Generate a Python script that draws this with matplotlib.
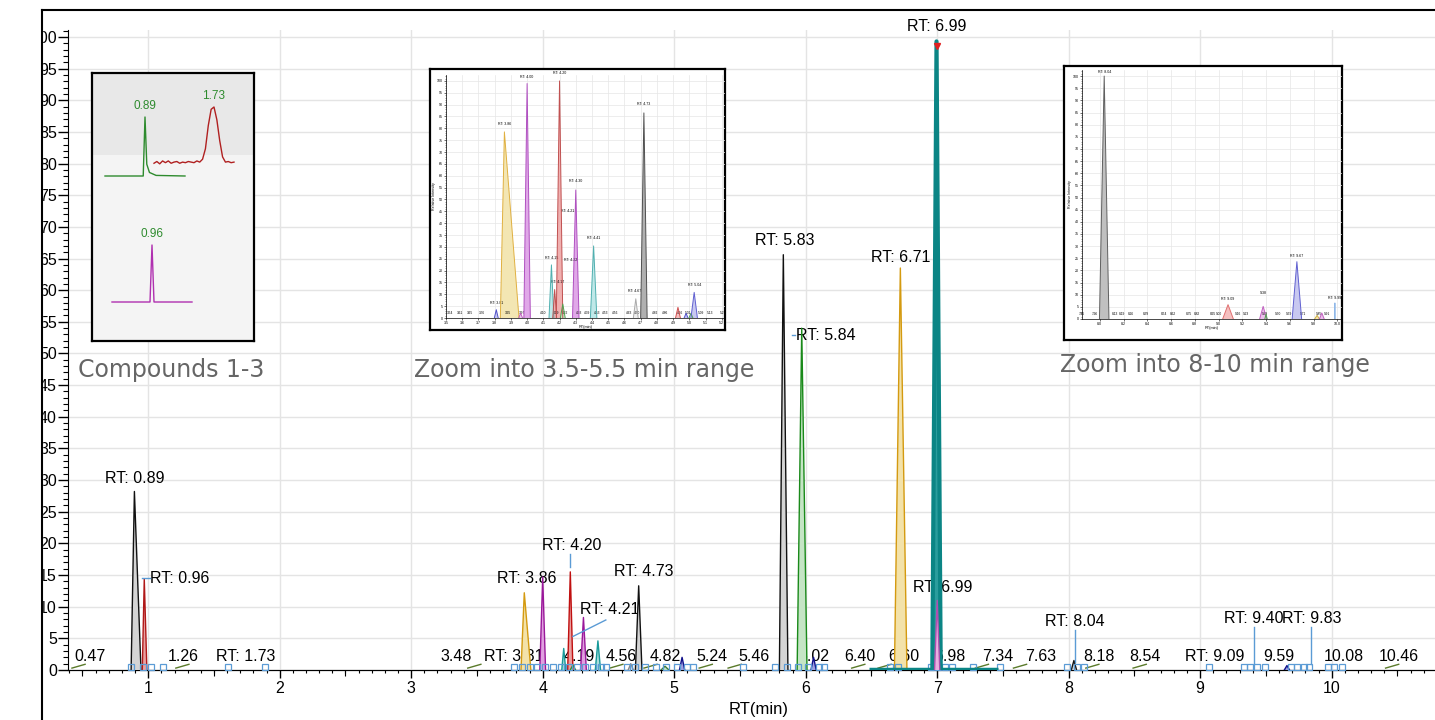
import numpy as np
import matplotlib.pyplot as plt
from matplotlib.patches import Rectangle
from matplotlib.lines import Line2D
from matplotlib.ticker import MultipleLocator, NullFormatter

plt.rcParams['font.family'] = ['Liberation Sans', 'DejaVu Sans']

# ---- main chromatogram: apex RT, relative intensity, left / right base width
peak_rt = [0.895, 0.97, 3.86, 4.0, 4.16, 4.21, 4.23, 4.31, 4.42, 4.67, 4.73, 4.93,
           5.06, 5.83, 5.97, 6.06, 6.72, 6.995, 7.0, 8.04, 9.66]
peak_h = [28.2, 14.4, 12.2, 14.7, 3.4, 15.5, 0.8, 8.3, 4.6, 1.0, 13.3, 0.6,
          2.0, 65.6, 54.0, 2.0, 63.5, 99.3, 11.0, 1.5, 0.7]
peak_wl = [0.025, 0.015, 0.025, 0.022, 0.015, 0.02, 0.02, 0.022, 0.02, 0.02, 0.025, 0.03,
           0.02, 0.03, 0.035, 0.02, 0.045, 0.032, 0.02, 0.02, 0.02]
peak_wr = [0.05, 0.02, 0.05, 0.022, 0.015, 0.02, 0.02, 0.022, 0.02, 0.02, 0.025, 0.03,
           0.02, 0.035, 0.04, 0.02, 0.05, 0.032, 0.02, 0.02, 0.02]
peak_line = ['#111111', '#b01818', '#d49a10', '#9a189a', '#189a9a', '#c01010', '#2a8a2a',
             '#9a189a', '#189a9a', '#888888', '#111111', '#3a7a3a', '#10108a', '#111111',
             '#1a8a1a', '#10108a', '#d49a10', '#0b8585', '#b050b0', '#111111', '#10108a']
peak_fill = ['#d4d4d4', '#e8a0a0', '#f3e2a9', '#e0a0e0', '#a8dcdc', '#e8a0a0', '#c5e5c5',
             '#e0a0e0', '#a8dcdc', '#e4e4e4', '#d4d4d4', '#c5e5c5', '#a0a0e0', '#d4d4d4',
             '#c5e5c5', '#a0a0e0', '#f3e2a9', '#2a9d9d', '#e8b0e0', '#d4d4d4', '#a0a0e0']

# small labelled peaks along the baseline (label text, where the label sits)
base_labels = ['0.47', '1.26', 'RT: 1.73', '3.48', 'RT: 3.81', '4.19', '4.56', '4.82', '5.24',
               '5.46', '6.02', '6.40', '6.60', '6.98', '7.34', '7.63', '8.18', '8.54',
               'RT: 9.09', '9.59', '10.08', '10.46']
base_label_x = [0.555, 1.27, 1.74, 3.34, 3.78, 4.28, 4.60, 4.93, 5.29, 5.61, 6.06, 6.41,
                6.75, 7.10, 7.46, 7.79, 8.23, 8.58, 9.11, 9.60, 10.09, 10.51]
minor_rt = [0.47, 1.26, 3.48, 4.56, 4.82, 5.24, 5.46, 6.40, 6.60, 7.34, 7.63, 8.18, 8.54, 10.46]

# peak boundary markers
bound_x = [0.87, 0.96, 1.02, 1.11, 1.61, 1.89, 3.78, 3.84, 3.90, 3.96, 4.02, 4.08, 4.14,
           4.20, 4.26, 4.32, 4.38, 4.44, 4.48, 4.64, 4.70, 4.78, 4.86, 4.94, 5.02, 5.10,
           5.14, 5.52, 5.77, 5.86, 5.94, 6.02, 6.10, 6.14, 6.64, 6.70, 6.95, 7.01, 7.06,
           7.11, 7.27, 7.48, 7.99, 8.06, 8.12, 9.07, 9.33, 9.38, 9.43, 9.49, 9.69, 9.74,
           9.79, 9.83, 9.97, 10.02, 10.08]

# ---- inset 1: compounds 1-3 (time, normalised intensity)
c1_t = [0.80, 0.886, 0.89, 0.894, 0.90, 0.915, 0.98]
c1_i = [0.0, 0.0, 1.0, 0.2, 0.06, 0.01, 0.0]
c2_t = [1.475, 1.4875, 1.50, 1.5125, 1.525, 1.5375, 1.55, 1.5625, 1.575, 1.5875, 1.60,
        1.6125, 1.625, 1.6375, 1.65, 1.6625, 1.675, 1.6875, 1.70, 1.7125, 1.725, 1.7375,
        1.75, 1.7625, 1.775, 1.7875, 1.80, 1.8125, 1.825]
c2_i = [0.03, 0.06, 0.02, 0.07, 0.04, 0.07, 0.03, 0.05, 0.06, 0.03, 0.05, 0.04, 0.06, 0.05,
        0.04, 0.07, 0.05, 0.10, 0.28, 0.68, 0.96, 1.0, 0.78, 0.42, 0.14, 0.05, 0.06, 0.04, 0.05]
c3_t = [0.90, 0.957, 0.96, 0.963, 1.02]
c3_i = [0.0, 0.0, 1.0, 0.0, 0.0]

# ---- inset 2: 3.5-5.5 min
z1_rt = [3.81, 3.86, 3.96, 4.00, 4.15, 4.17, 4.20, 4.22, 4.30, 4.41, 4.67, 4.72, 4.93, 4.98, 5.01, 5.03]
z1_h = [3.5, 78.5, 2, 98.9, 22.4, 12, 100, 5.9, 54, 30.4, 8.1, 86.5, 4.5, 2, 2, 10.8]
z1_wl = [0.012, 0.025, 0.012, 0.02, 0.015, 0.012, 0.02, 0.015, 0.02, 0.02, 0.015, 0.02, 0.015, 0.012, 0.012, 0.02]
z1_wr = [0.012, 0.09, 0.012, 0.02, 0.015, 0.012, 0.02, 0.015, 0.02, 0.02, 0.015, 0.02, 0.015, 0.012, 0.012, 0.02]
z1_line = ['#5050c8', '#e0b040', '#c060c0', '#b050c0', '#50b0b0', '#c05050', '#c05050', '#50a050',
           '#b050c0', '#50b0b0', '#aaaaaa', '#505050', '#d05050', '#5050c8', '#50a050', '#6060d0']
z1_fill = ['#c8c8f0', '#f3e6b3', '#ecc8ec', '#e0a8e8', '#c0e8e8', '#f0b0b0', '#f0b0b0', '#c8e8c8',
           '#e0a8e8', '#c0e8e8', '#eeeeee', '#b0b0b0', '#f5c0c0', '#c8c8f0', '#c8e8c8', '#c8c8f0']
z1_tags = ['RT: 3.81', 'RT: 3.86', 'RT: 4.00', 'RT: 4.15', 'RT: 4.17', 'RT: 4.20', 'RT: 4.21',
           'RT: 4.22', 'RT: 4.30', 'RT: 4.41', 'RT: 4.67', 'RT: 4.73', 'RT: 5.04']
z1_base = ['3.54', '3.61', '3.65', '3.76', '3.95', '3.97', '4.10', '4.19', '4.22', '4.33', '4.39',
           '4.43', '4.53', '4.56', '4.63', '4.70', '4.82', '4.86', '4.96', '5.01', '5.09', '5.13', '5.2']
z1_base_x = [3.528, 3.586, 3.648, 3.72, 3.88, 3.97, 4.10, 4.18, 4.235, 4.32, 4.37, 4.43, 4.48,
             4.54, 4.63, 4.68, 4.79, 4.85, 4.94, 4.99, 5.07, 5.13, 5.2]

# ---- inset 3: 8-10 min
z2_rt = [8.037, 9.08, 9.376, 9.40, 9.66, 9.83, 9.87, 9.98]
z2_h = [100, 5.9, 5.2, 2, 23.6, 1.5, 2.5, 6.6]
z2_w = [0.04, 0.045, 0.03, 0.01, 0.04, 0.02, 0.02, 0.003]
z2_line = ['#606060', '#e07070', '#c060c0', '#50a050', '#6060d0', '#d0b040', '#c060c0', '#90b8e8']
z2_fill = ['#c0c0c0', '#f5c0c0', '#ecc0ec', '#c8e8c8', '#c8c8f0', '#f3e6b3', '#ecc0ec', '#d8e8f8']
z2_tags = ['RT: 8.04', 'RT: 9.09', '9.38', 'RT: 9.67', 'RT: 9.99']
z2_base = ['7.85', '7.96', '8.13', '8.19', '8.26', '8.39', '8.54', '8.62', '8.75', '8.82', '8.95',
           '9.00', '9.16', '9.23', '9.39', '9.50', '9.59', '9.71', '9.85', '9.91']

W, H = 1435, 720


def fig_rect(x0, y0, x1, y1):
    # pixel box (top-left origin) -> figure fraction rect
    return [x0 / W, 1 - y1 / H, (x1 - x0) / W, (y1 - y0) / H]


def draw_peaks(ax, rts, hs, wls, wrs, lines, fills, lw=1.0, z=3):
    for rt, h, wl, wr, lc, fc in zip(rts, hs, wls, wrs, lines, fills):
        xs = [rt - wl, rt, rt + wr]
        ys = [0, h, 0]
        ax.fill(xs, ys, color=fc, lw=0, zorder=z)
        ax.plot(xs, ys, color=lc, lw=lw, zorder=z + 0.5)


def box_axes(fig, rect, face='white'):
    bx = fig.add_axes(rect, zorder=5)
    bx.set_facecolor(face)
    bx.set_xticks([])
    bx.set_yticks([])
    for s in bx.spines.values():
        s.set_linewidth(1.6)
        s.set_color('black')
    return bx


def mini_axes(fig, rect, xlim, xstep):
    mx = fig.add_axes(rect, zorder=6)
    mx.set_facecolor('none')
    mx.set_xlim(*xlim)
    mx.set_ylim(0, 102.5)
    mx.xaxis.set_major_locator(MultipleLocator(xstep))
    mx.yaxis.set_major_locator(MultipleLocator(5))
    mx.yaxis.set_minor_locator(MultipleLocator(1))
    mx.tick_params(labelsize=2.6, length=1.2, width=0.4, pad=0.8)
    mx.tick_params(which='minor', length=0.7, width=0.3)
    mx.grid(True, color='#e6e6e6', lw=0.5)
    mx.set_axisbelow(True)
    for s in ['top', 'right']:
        mx.spines[s].set_visible(False)
    for s in ['left', 'bottom']:
        mx.spines[s].set_linewidth(0.5)
    mx.set_ylabel('Relative Intensity', fontsize=2.6, labelpad=1)
    mx.set_xlabel('RT(min)', fontsize=2.8, labelpad=0.5)
    return mx


def main():
    fig = plt.figure(figsize=(W / 100, H / 100), dpi=100)
    ax = fig.add_axes(fig_rect(68, 30, 1450, 670))
    ax.set_xlim(0.39, 10.90)
    ax.set_ylim(0, 101.1)

    ax.xaxis.set_major_locator(MultipleLocator(1))
    ax.xaxis.set_minor_locator(MultipleLocator(0.1))
    ax.yaxis.set_major_locator(MultipleLocator(5))
    ax.yaxis.set_minor_locator(MultipleLocator(1))
    ax.tick_params(axis='x', which='major', length=6, width=1, labelsize=11.5, pad=2)
    ax.tick_params(axis='x', which='minor', length=2.2, width=0.8)
    ax.tick_params(axis='y', which='major', length=7, width=1, labelsize=11.5, pad=1)
    ax.tick_params(axis='y', which='minor', length=3.5, width=0.8)
    half = ax.secondary_xaxis('bottom')
    half.set_xticks(np.arange(0.5, 11, 1))
    half.xaxis.set_major_formatter(NullFormatter())
    half.tick_params(length=4, width=0.8)
    for s in ['top', 'right']:
        ax.spines[s].set_visible(False)
    ax.grid(True, which='major', color='#e4e4e4', lw=1)
    ax.set_axisbelow(True)
    ax.set_xlabel('RT(min)', fontsize=12, labelpad=4)

    # peaks (the big teal peak on top, purple 7.00 over it)
    for i in range(len(peak_rt)):
        z = 3
        lw = 1.0
        if peak_rt[i] == 6.995:
            z, lw = 5, 3.0
        if peak_rt[i] == 7.0:
            z = 6
        draw_peaks(ax, [peak_rt[i]], [peak_h[i]], [peak_wl[i]], [peak_wr[i]],
                   [peak_line[i]], [peak_fill[i]], lw=lw, z=z)
    ax.plot([6.48, 7.46], [0.2, 0.2], color='#0b8585', lw=2.5, zorder=5, solid_capstyle='butt')
    ax.plot([6.995], [98.6], 'v', color='#e02020', ms=5, zorder=7)

    for rt in minor_rt:
        ax.plot([rt - 0.05, rt + 0.05], [0.3, 0.9], color='#5a7a2a', lw=1, zorder=3)
    ax.plot(bound_x, [0.45] * len(bound_x), 's', ms=4.5, mfc='none', mec='#5b9bd5',
            mew=0.9, zorder=4, clip_on=False)

    for txt, x in zip(base_labels, base_label_x):
        ax.text(x, 2.1, txt, fontsize=11.5, ha='center', va='center', zorder=2.5)

    labels = [('RT: 0.89', 0.90, 30.2, 'center'), ('RT: 0.96', 1.015, 14.5, 'left'),
              ('RT: 3.86', 3.88, 14.5, 'center'), ('RT: 4.20', 4.22, 19.6, 'center'),
              ('RT: 4.21', 4.51, 9.5, 'center'), ('RT: 4.73', 4.77, 15.5, 'center'),
              ('RT: 5.83', 5.84, 67.9, 'center'), ('RT: 5.84', 5.925, 52.8, 'left'),
              ('RT: 6.71', 6.72, 65.2, 'center'), ('RT: 6.99', 7.0, 101.7, 'center'),
              ('RT: 6.99', 7.04, 13.0, 'center'), ('RT: 8.04', 8.05, 7.6, 'center'),
              ('RT: 9.40', 9.41, 8.1, 'center'), ('RT: 9.83', 9.85, 8.1, 'center')]
    for txt, x, y, ha in labels:
        ax.text(x, y, txt, fontsize=11.5, ha=ha, va='center', zorder=2.5, clip_on=False)

    leader = '#5b9bd5'
    for x0, y0, x1, y1 in [(0.955, 14.6, 1.01, 14.6), (4.21, 16.2, 4.21, 18.3),
                           (4.23, 5.3, 4.48, 7.9), (5.895, 52.9, 5.92, 52.9),
                           (8.05, 1.2, 8.05, 6.3), (9.41, 1.0, 9.41, 6.8),
                           (9.845, 1.0, 9.845, 6.8)]:
        ax.plot([x0, x1], [y0, y1], color=leader, lw=1, zorder=4)

    # ---- inset 1
    b1 = box_axes(fig, fig_rect(92, 73, 254, 341), face='#f4f4f4')
    b1.set_xlim(0, 1)
    b1.set_ylim(0, 1)
    b1.axhspan(1 - (155 - 73) / 268, 1, color='#e8e8e8', lw=0)
    for t, v, pix, color, tag, apex in [(c1_t, c1_i, (105, 117, 185, 176), '#2e8b2e', '0.89', 0.89),
                                        (c2_t, c2_i, (154, 107, 234, 165), '#b02020', '1.73', 1.7375),
                                        (c3_t, c3_i, (112, 245, 192, 302), '#b030b0', '0.96', 0.96)]:
        tx = fig.add_axes(fig_rect(*pix), zorder=6)
        tx.set_xlim(t[0], t[-1])
        tx.set_ylim(0, 1)
        tx.axis('off')
        tx.plot(t, v, color=color, lw=1.0, clip_on=False)
        tx.annotate(tag, (apex, 1.0), xytext=(0, 8), textcoords='offset points',
                    ha='center', va='center', fontsize=8.5, color='#2e8b2e')
    fig.text(171 / W, 1 - 370 / H, 'Compounds 1-3', ha='center', va='center',
             fontsize=17, color='#666666', family='DejaVu Sans')

    # ---- inset 2
    box_axes(fig, fig_rect(430, 69, 725, 330))
    m1 = mini_axes(fig, fig_rect(446, 75, 725, 318), (3.5, 5.22), 0.1)
    m1.xaxis.set_major_formatter(plt.FuncFormatter(lambda v, p: f'{v:.1f}'))
    draw_peaks(m1, z1_rt, z1_h, z1_wl, z1_wr, z1_line, z1_fill, lw=0.7)
    tag_pos = [(3.81, 5.5), (3.86, 81), (4.00, 101), (4.15, 24.5), (4.19, 14.5), (4.20, 102.5),
               (4.25, 44.5), (4.27, 23.5), (4.30, 57), (4.41, 33), (4.66, 10.5), (4.72, 89.5),
               (5.03, 13)]
    for tag, (x, y) in zip(z1_tags, tag_pos):
        m1.text(x, y, tag, fontsize=2.6, ha='center', va='bottom')
    for tag, x in zip(z1_base, z1_base_x):
        m1.text(x, 2.2, tag, fontsize=2.3, ha='center', va='center')
    fig.text(584 / W, 1 - 370 / H, 'Zoom into 3.5-5.5 min range', ha='center', va='center',
             fontsize=17, color='#666666', family='DejaVu Sans')

    # ---- inset 3
    box_axes(fig, fig_rect(1064, 66, 1342, 340))
    m2 = mini_axes(fig, fig_rect(1082, 70, 1342, 319), (7.85, 10.04), 0.2)
    m2.xaxis.set_major_formatter(plt.FuncFormatter(lambda v, p: f'{v:.1f}'))
    draw_peaks(m2, z2_rt, z2_h, z2_w, z2_w, z2_line, z2_fill, lw=0.7)
    tag_pos = [(8.037, 101), (9.08, 7.5), (9.376, 10), (9.66, 25), (9.98, 8)]
    for tag, (x, y) in zip(z2_tags, tag_pos):
        m2.text(x, y, tag, fontsize=2.6, ha='center', va='bottom')
    for tag in z2_base:
        m2.text(float(tag), 2.2, tag, fontsize=2.3, ha='center', va='center')
    fig.text(1215 / W, 1 - 365 / H, 'Zoom into 8-10 min range', ha='center', va='center',
             fontsize=17, color='#666666', family='DejaVu Sans')

    # outer frame, left part cut off
    fig.add_artist(Rectangle((0, 0), 42 / W, 1, transform=fig.transFigure,
                             color='white', zorder=10))
    fig.add_artist(Line2D([42 / W, 42 / W], [0, 1 - 10 / H], transform=fig.transFigure,
                          color='black', lw=1.5, zorder=11))
    fig.add_artist(Line2D([42 / W, 1], [1 - 10 / H, 1 - 10 / H], transform=fig.transFigure,
                          color='black', lw=1.5, zorder=11))

    fig.savefig('out.png', dpi=100)
    plt.close(fig)


if __name__ == '__main__':
    main()
